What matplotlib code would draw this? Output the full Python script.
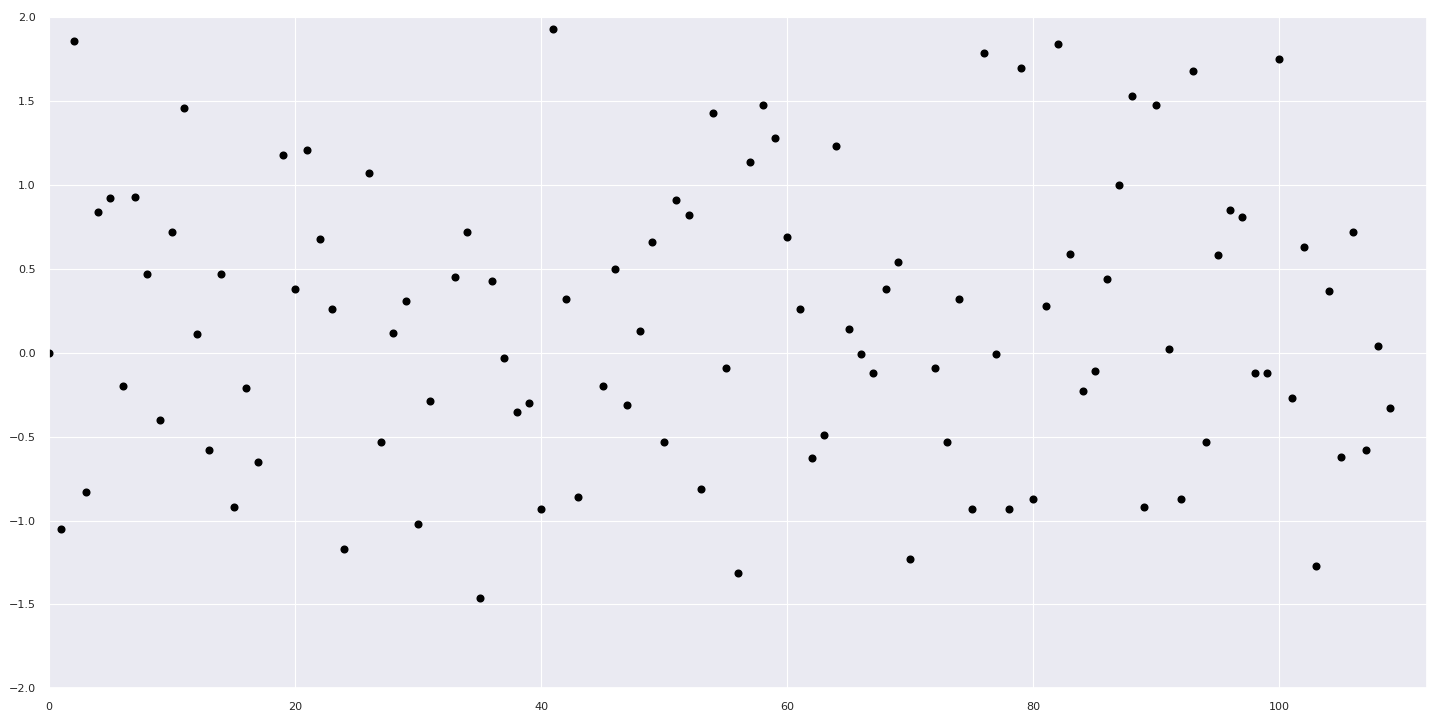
import numpy as np
import seaborn as sns
import matplotlib
matplotlib.use("Agg")
import matplotlib.pyplot as plt

# values, NaN where no point is drawn
y_values = [
    0.00, -1.05, 1.86, -0.83, 0.84, 0.92, -0.20, 0.93, 0.47, -0.40,
    0.72, 1.46, 0.11, -0.58, 0.47, -0.92, -0.21, -0.65, np.nan, 1.18,
    0.38, 1.21, 0.68, 0.26, -1.17, np.nan, 1.07, -0.53, 0.12, 0.31,
    -1.02, -0.29, np.nan, 0.45, 0.72, -1.46, 0.43, -0.03, -0.35, -0.30,
    -0.93, 1.93, 0.32, -0.86, np.nan, -0.20, 0.50, -0.31, 0.13, 0.66,
    -0.53, 0.91, 0.82, -0.81, 1.43, -0.09, -1.31, 1.14, 1.48, 1.28,
    0.69, 0.26, -0.63, -0.49, 1.23, 0.14, -0.005, -0.12, 0.38, 0.54,
    -1.23, np.nan, -0.09, -0.53, 0.32, -0.93, 1.79, -0.01, -0.93, 1.70,
    -0.87, 0.28, 1.84, 0.59, -0.23, -0.11, 0.44, 1.00, 1.53, -0.92,
    1.48, 0.02, -0.87, 1.68, -0.53, 0.58, 0.85, 0.81, -0.12, -0.12,
    1.75, -0.27, 0.63, -1.27, 0.37, -0.62, 0.72, -0.58, 0.04, -0.33,
]
x_values = np.arange(len(y_values))

sns.set_theme(style="darkgrid")
plt.rcParams['font.family'] = ['DejaVu Sans']
plt.rcParams['grid.linewidth'] = 0.8

fig, ax = plt.subplots(figsize=(14.4, 7.2), dpi=100)
ax.plot(x_values, y_values, 'o', color='black', markersize=4.8, linestyle='none')

ax.set_xlim(0, 112)
ax.set_ylim(-2.0, 2.0)
ax.set_xticks([0, 20, 40, 60, 80, 100])
ax.set_yticks(np.arange(-2.0, 2.01, 0.5))
ax.tick_params(labelsize=8)

fig.subplots_adjust(left=0.034, right=0.991, top=0.976, bottom=0.044)
fig.savefig("out.png", dpi=100)
